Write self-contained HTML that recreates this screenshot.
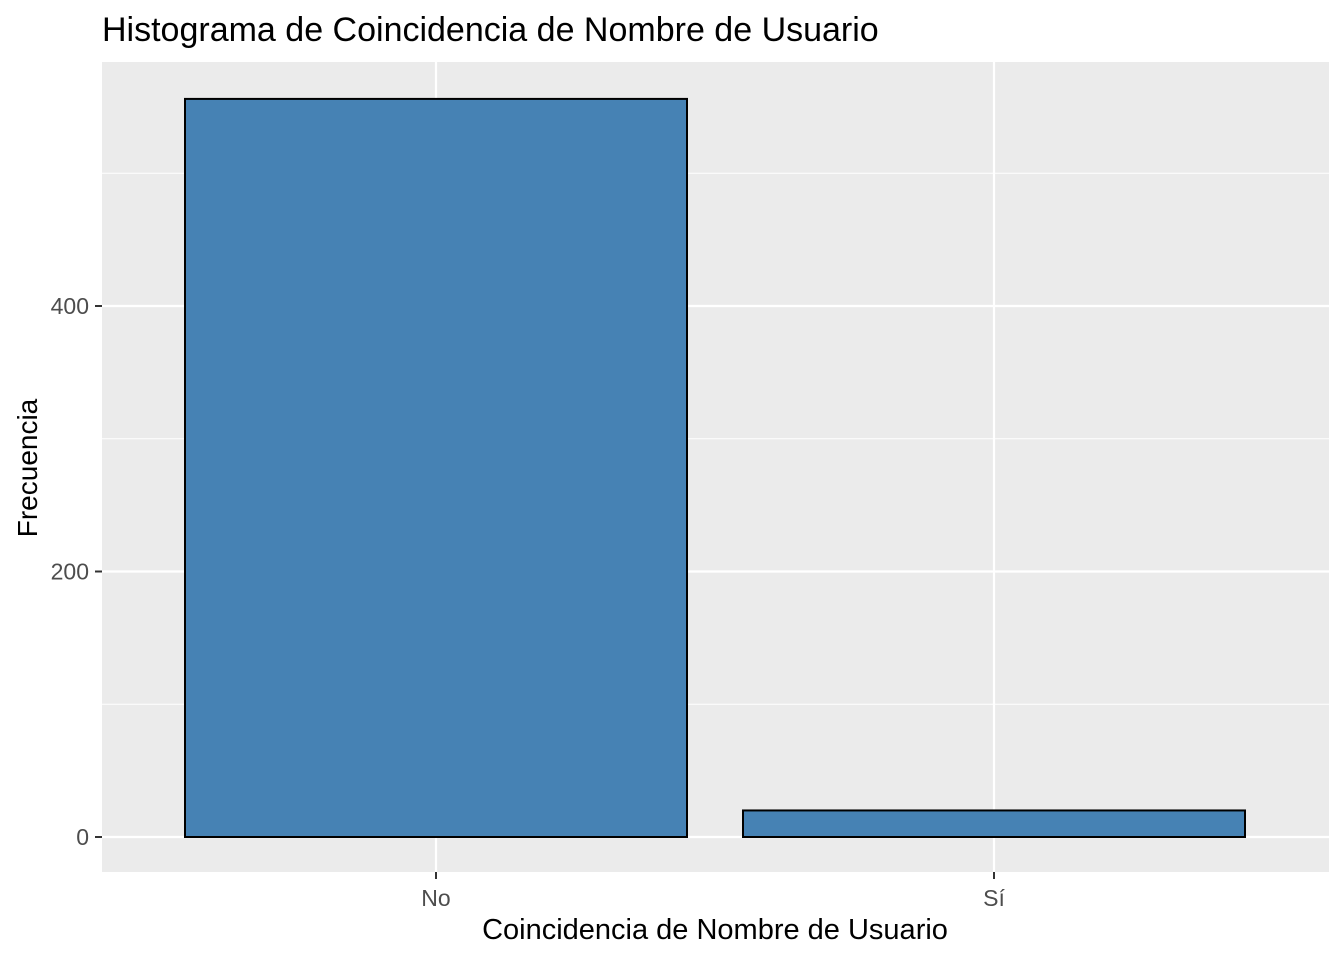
<!DOCTYPE html>
<html><head><meta charset="utf-8"><style>
body{margin:0;background:#fff;}
svg text{font-family:"Liberation Sans",sans-serif;}
</style></head><body>
<svg id="chart" width="1344" height="960">
<text x="102" y="41" font-size="34" fill="#000">Histograma de Coincidencia de Nombre de Usuario</text>
<rect x="102" y="62" width="1227" height="810" fill="#ebebeb"/>
<g id="grid"></g><g id="bars"></g><g id="axes"></g>
<text x="715" y="939" font-size="29" text-anchor="middle" fill="#000">Coincidencia de Nombre de Usuario</text>
<text transform="translate(37,468) rotate(-90)" font-size="28" text-anchor="middle" fill="#000">Frecuencia</text>
</svg>
<script>
const categories=["No","Sí"];
const counts=[556,20];
const yTicks=[0,200,400];
const yMinor=[100,300,500];
const ns="http://www.w3.org/2000/svg";
const y0=837, pxPer=265.5/200;
const y=v=>y0-v*pxPer;
const cx=i=>436+i*558;
function mk(tag,attrs,parent,txt){const e=document.createElementNS(ns,tag);for(const k in attrs)e.setAttribute(k,attrs[k]);if(txt!==undefined)e.textContent=txt;document.getElementById(parent).appendChild(e);return e;}
yMinor.forEach(v=>{const l=mk('line',{x1:102,x2:1329,y1:y(v),y2:y(v),stroke:'#fff','stroke-width':1.1},'grid');

});
yTicks.forEach(v=>{const l=mk('line',{x1:102,x2:1329,y1:y(v),y2:y(v),stroke:'#fff','stroke-width':2.2},'grid');


const t=mk('line',{x1:95,x2:102,y1:y(v),y2:y(v),stroke:'#333','stroke-width':2},'axes');


const lb=mk('text',{x:89,y:y(v)+8,'font-size':23,'text-anchor':'end',fill:'#4d4d4d'},'axes',v);

});
categories.forEach((c,i)=>{const g=mk('line',{x1:cx(i),x2:cx(i),y1:62,y2:872,stroke:'#fff','stroke-width':2.2},'grid');


const w=502;const b=mk('rect',{x:cx(i)-w/2,y:y(counts[i]),width:w,height:y0-y(counts[i]),fill:'#4682b4',stroke:'#000','stroke-width':2},'bars');


const t=mk('line',{x1:cx(i),x2:cx(i),y1:872,y2:879,stroke:'#333','stroke-width':2},'axes');


const lb=mk('text',{x:cx(i),y:906,'font-size':23,'text-anchor':'middle',fill:'#4d4d4d'},'axes',c);

});
</script>
</body></html>
